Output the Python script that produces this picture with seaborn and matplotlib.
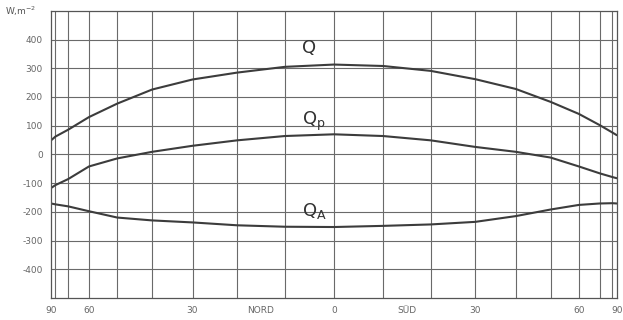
import numpy as np
import pandas as pd
import matplotlib
matplotlib.use("Agg")
import matplotlib.pyplot as plt
import seaborn as sns

# Latitude (north positive), 90N -> 90S in 10 degree steps
lat = [90, 80, 70, 60, 50, 40, 30, 20, 10, 0, -10, -20, -30, -40, -50, -60, -70, -80, -90]

# Zonal mean flux densities, W m-2
q_total = [49, 62, 86, 130, 177, 226, 261, 285, 305, 313, 308, 291, 262, 228, 183, 141, 102, 76, 67]
q_p = [-117, -107, -86, -42, -14, 9, 30, 49, 64, 70, 64, 49, 26, 9, -11, -42, -66, -79, -83]
q_a = [-171, -174, -181, -198, -220, -230, -237, -247, -252, -253, -249, -244, -235, -215, -192, -176, -171, -170, -171]

tick_lat = [90, 60, 30, 15, 0, -15, -30, -60, -90]
tick_text = ["90", "60", "30", "NORD", "0", "SÜD", "30", "60", "90"]
y_ticks = [400, 300, 200, 100, 0, -100, -200, -300, -400]
grid_lat = list(range(-80, 81, 10))

df = pd.DataFrame({
    "lat": lat * 3,
    "flux": q_total + q_p + q_a,
    "series": ["Q"] * len(lat) + ["Qp"] * len(lat) + ["QA"] * len(lat),
})

sns.set_theme(style="white")
plt.rcParams["font.family"] = ["DejaVu Sans"]

fig = plt.figure(figsize=(6.23, 3.2), dpi=100)
ax = fig.add_axes([0.082, 0.069, 0.908, 0.897])

# Equal-area latitude axis: horizontal position proportional to sin(latitude)
fwd = lambda x: np.sin(np.radians(np.clip(x, -90, 90)))
inv = lambda s: np.degrees(np.arcsin(np.clip(s, -1, 1)))
ax.set_xscale("function", functions=(fwd, inv))

grid_col = "#6a6a6a"
for g in grid_lat:
    ax.axvline(g, color=grid_col, linewidth=0.8, zorder=0.5)

line_col = "#3c3c3c"
sns.lineplot(data=df, x="lat", y="flux", units="series", estimator=None,
             color=line_col, linewidth=1.5, ax=ax, legend=False,
             solid_joinstyle="round", solid_capstyle="round")

ax.set_xlim(90, -90)
ax.set_ylim(-500, 500)

ax.set_xticks(tick_lat)
ax.set_xticklabels(tick_text)
ax.set_yticks(y_ticks)
ax.set_yticklabels([str(v) for v in y_ticks])

ax.xaxis.grid(False)
ax.yaxis.grid(True, which="major", color=grid_col, linewidth=0.8)
ax.set_axisbelow(True)
ax.tick_params(axis="both", which="both", length=0, labelsize=6.5,
               labelcolor="#666666", pad=6)
ax.set_xlabel("")
ax.set_ylabel("")
for s in ax.spines.values():
    s.set_color("#555555")
    s.set_linewidth(0.9)

# Curve labels
lab_col = "#333333"
ax.text(5, 372, "Q", fontsize=13, color=lab_col, ha="center", va="center")
ax.text(4, 115, r"$\mathregular{Q_p}$", fontsize=13, color=lab_col, ha="center", va="center")
ax.text(4, -197, r"$\mathregular{Q_A}$", fontsize=13, color=lab_col, ha="center", va="center")

fig.text(0.008, 0.945, r"W,m$^{-2}$", fontsize=6.5, color="#555555", ha="left", va="bottom")

fig.savefig("out.png", dpi=100, facecolor="white")
